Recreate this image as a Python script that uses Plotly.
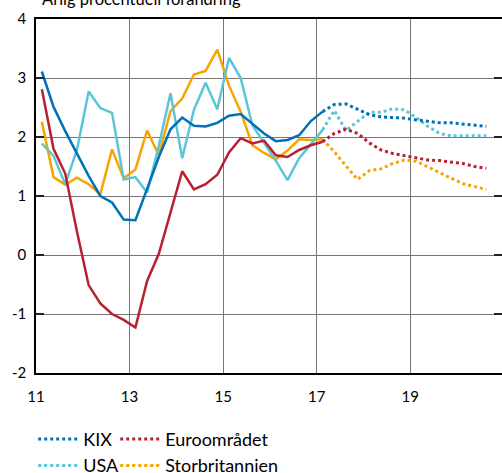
import plotly.graph_objects as go

# Quarterly positions (year index, mid-quarter)
x_hist = [11.125, 11.375, 11.625, 11.875, 12.125, 12.375, 12.625, 12.875, 13.125,
          13.375, 13.625, 13.875, 14.125, 14.375, 14.625, 14.875, 15.125, 15.375,
          15.625, 15.875, 16.125, 16.375, 16.625, 16.875, 17.125]
x_fcst = [17.125, 17.375, 17.625, 17.875, 18.125, 18.375, 18.625, 18.875, 19.125,
          19.375, 19.625, 19.875, 20.125, 20.375, 20.625]

kix_hist = [3.11, 2.51, 2.10, 1.72, 1.34, 1.00, 0.89, 0.60, 0.59, 1.12, 1.66, 2.13, 2.33,
            2.19, 2.18, 2.24, 2.36, 2.39, 2.23, 2.06, 1.93, 1.95, 2.03, 2.27, 2.43]
euro_hist = [2.81, 1.80, 1.38, 0.40, -0.51, -0.82, -1.00, -1.10, -1.23, -0.44, 0.02, 0.72, 1.42,
             1.11, 1.20, 1.36, 1.74, 1.98, 1.89, 1.94, 1.69, 1.66, 1.78, 1.86, 1.92]
usa_hist = [1.89, 1.68, 1.20, 1.78, 2.77, 2.49, 2.41, 1.28, 1.32, 1.06, 1.85, 2.74, 1.64,
            2.46, 2.92, 2.47, 3.34, 3.00, 2.20, 1.90, 1.60, 1.27, 1.64, 1.88, 2.12]
uk_hist = [2.26, 1.32, 1.19, 1.31, 1.20, 1.03, 1.79, 1.30, 1.45, 2.11, 1.69, 2.44, 2.65,
           3.06, 3.12, 3.48, 2.87, 2.43, 1.86, 1.73, 1.62, 1.77, 1.96, 1.95, 1.96]

kix_fcst = [2.43, 2.55, 2.56, 2.47, 2.38, 2.34, 2.33, 2.32, 2.29, 2.26, 2.24, 2.24, 2.22, 2.20, 2.18]
euro_fcst = [1.92, 2.06, 2.13, 2.06, 1.90, 1.78, 1.72, 1.68, 1.64, 1.61, 1.60, 1.58, 1.55, 1.50, 1.47]
usa_fcst = [2.12, 2.45, 2.11, 2.26, 2.42, 2.42, 2.48, 2.46, 2.33, 2.18, 2.06, 2.02, 2.02, 2.02, 2.02]
uk_fcst = [1.96, 1.75, 1.51, 1.28, 1.43, 1.46, 1.55, 1.61, 1.59, 1.49, 1.40, 1.30, 1.21, 1.16, 1.11]

x_tickvals = [11, 13, 15, 17, 19]
x_ticktext = ["11", "13", "15", "17", "19"]
y_tickvals = [-2, -1, 0, 1, 2, 3, 4]
y_ticktext = ["-2", "-1", "0", "1", "2", "3", "4"]

# name, hist, forecast, colour, legend, rank
series = [
    ("Storbritannien", uk_hist, uk_fcst, "#F7A400", "legend2", 4),
    ("USA", usa_hist, usa_fcst, "#5BC5D6", "legend", 2),
    ("Euroområdet", euro_hist, euro_fcst, "#B9202F", "legend2", 3),
    ("KIX", kix_hist, kix_fcst, "#0070BA", "legend", 1),
]

FONT = "Lato"
fig = go.Figure()
for name, h, f, col, lg, rk in series:
    fig.add_trace(go.Scatter(x=x_hist, y=h, mode="lines", name=name, showlegend=False,
                             line=dict(color=col, width=2.5)))
for name, h, f, col, lg, rk in series:
    fig.add_trace(go.Scatter(x=x_fcst, y=f, mode="lines", name=name, legend=lg,
                             legendrank=rk, line=dict(color=col, width=3, dash="dot")))

# invisible trace carrying the right-hand tick marks
fig.add_trace(go.Scatter(x=[11], y=[0], yaxis="y2", mode="markers",
                         marker=dict(opacity=0), showlegend=False, hoverinfo="skip"))

fig.update_layout(
    width=502, height=473,
    margin=dict(l=36, r=0, t=19, b=100, autoexpand=False),
    plot_bgcolor="white", paper_bgcolor="white",
    font=dict(family=FONT, size=15, color="#000000"),
    xaxis=dict(range=[11, 20.96], tickvals=x_tickvals, ticktext=x_ticktext,
               showgrid=True, gridcolor="#777777", gridwidth=1.3, automargin=False,
               showline=True, linecolor="#000000", linewidth=1.5, mirror=True,
               ticks="", ticklabelstandoff=9, zeroline=False,
               tickfont=dict(family=FONT, size=15)),
    yaxis=dict(range=[-2, 4], tickvals=y_tickvals, ticktext=y_ticktext, automargin=False,
               showgrid=True, gridcolor="#777777", gridwidth=1.3,
               showline=True, linecolor="#000000", linewidth=1.5,
               ticks="inside", ticklen=8, tickwidth=1.5, tickcolor="#222222",
               ticklabelstandoff=5, zeroline=False,
               tickfont=dict(family=FONT, size=15)),
    yaxis2=dict(range=[-2, 4], tickvals=y_tickvals, overlaying="y", side="right",
                automargin=False,
                showgrid=False, showline=False, zeroline=False, showticklabels=False,
                ticks="inside", ticklen=8, tickwidth=1.5, tickcolor="#222222"),
    legend=dict(x=-0.006, y=-0.135, xanchor="left", yanchor="top",
                orientation="v", font=dict(family=FONT, size=18), itemwidth=40,
                bgcolor="rgba(0,0,0,0)"),
    legend2=dict(x=0.17, y=-0.135, xanchor="left", yanchor="top",
                 orientation="v", font=dict(family=FONT, size=18), itemwidth=40,
                 bgcolor="rgba(0,0,0,0)"),
    annotations=[dict(text="Årlig procentuell förändring", xref="paper", yref="paper",
                      x=0.0086, y=1.059, xanchor="left", yanchor="middle",
                      showarrow=False, font=dict(family=FONT, size=16.5))],
)

fig.write_html("out.html", config={"displayModeBar": False},
               post_script="document.body.style.margin='0';document.body.style.overflow='hidden';")
